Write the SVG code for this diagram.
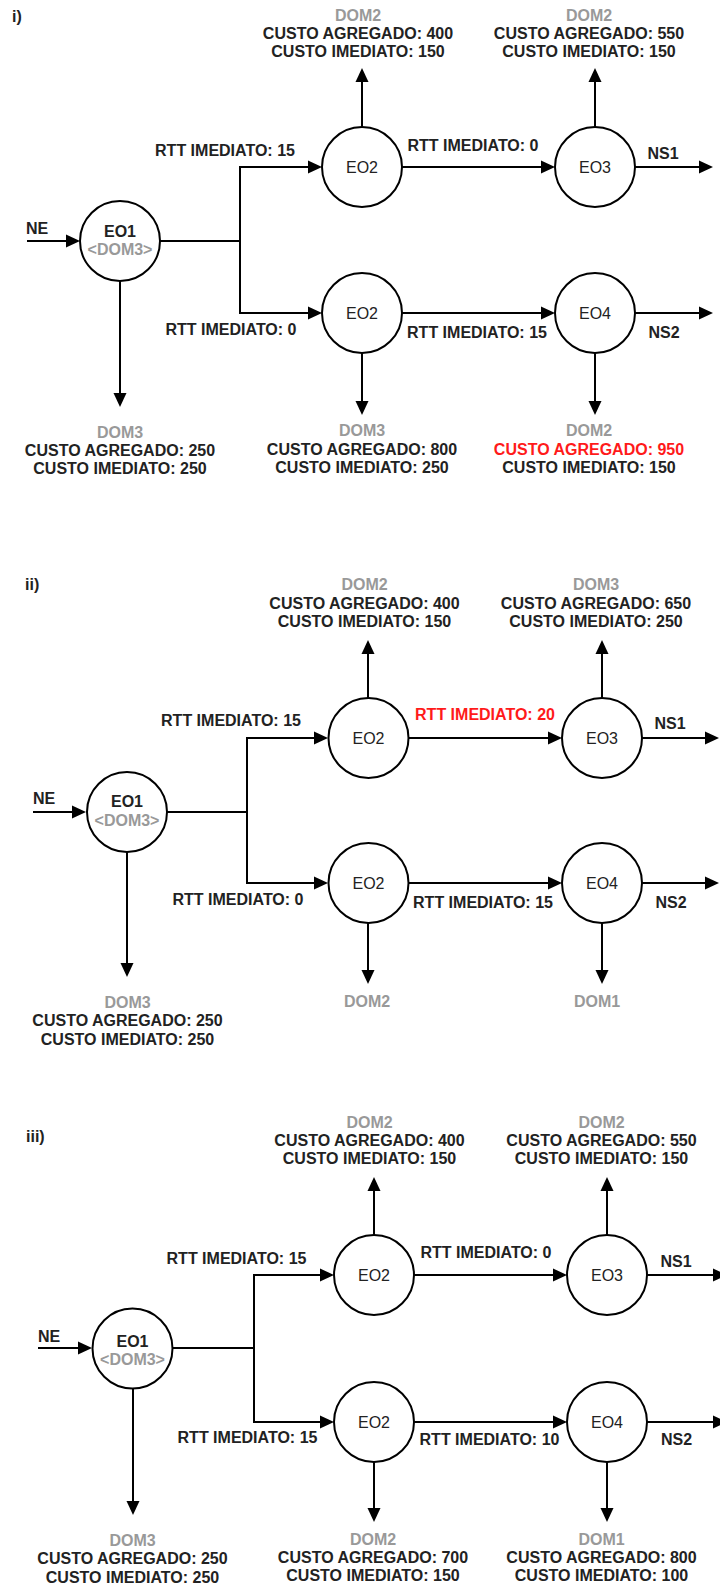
<svg xmlns="http://www.w3.org/2000/svg" width="720" height="1587" viewBox="0 0 720 1587">
  <style>
    text { font-family: "Liberation Sans", Arial, sans-serif; font-size: 16px; }
    .b { font-weight: bold; fill: #222; text-anchor: middle; }
    .s { font-weight: bold; fill: #222; text-anchor: start; }
    .g { font-weight: bold; fill: #999; text-anchor: middle; }
    .r { font-weight: bold; fill: #ff1a1a; text-anchor: middle; }
    .n { fill: #222; text-anchor: middle; }
    .node { fill: #fff; stroke: #000; stroke-width: 2; }
    .edge { fill: none; stroke: #000; stroke-width: 2; marker-end: url(#arr); }
    .wire { fill: none; stroke: #000; stroke-width: 2; }
  </style>
  <defs>
    <marker id="arr" markerUnits="userSpaceOnUse" markerWidth="14" markerHeight="14" refX="12" refY="7" orient="auto">
      <path d="M0,0.5 L14,7 L0,13.5 z" fill="#000"/>
    </marker>
  </defs>
  <rect width="720" height="1587" fill="#fff"/>

  <!-- ===== Scenario i) ===== -->
  <text class="s" x="12" y="22">i)</text>

  <g id="i-connectors">
    <path class="edge" d="M27,241 H78"/>
    <path class="wire" d="M160,241 H240"/>
    <path class="edge" d="M240,241 V167 H320"/>
    <path class="edge" d="M240,241 V313 H320"/>
    <path class="edge" d="M402,167 H553"/>
    <path class="edge" d="M635,167 H711"/>
    <path class="edge" d="M402,313 H553"/>
    <path class="edge" d="M635,313 H711"/>
    <path class="edge" d="M362,127 V70"/>
    <path class="edge" d="M595,127 V70"/>
    <path class="edge" d="M120,281 V405"/>
    <path class="edge" d="M362,353 V413"/>
    <path class="edge" d="M595,353 V413"/>
    <text class="s" x="26" y="234">NE</text>
    <text class="b" x="225" y="156">RTT IMEDIATO: 15</text>
    <text class="b" x="231" y="335">RTT IMEDIATO: 0</text>
    <text class="b" x="473" y="151">RTT IMEDIATO: 0</text>
    <text class="b" x="477" y="338">RTT IMEDIATO: 15</text>
    <text class="b" x="663" y="159">NS1</text>
    <text class="b" x="664" y="338">NS2</text>
  </g>

  <g id="i-eo1">
    <circle class="node" cx="120" cy="241" r="40"/>
    <text class="b" x="120" y="237">EO1</text>
    <text class="g" x="120" y="255">&lt;DOM3&gt;</text>
  </g>
  <g id="i-eo2-top">
    <circle class="node" cx="362" cy="167" r="40"/>
    <text class="n" x="362" y="173">EO2</text>
  </g>
  <g id="i-eo3">
    <circle class="node" cx="595" cy="167" r="40"/>
    <text class="n" x="595" y="173">EO3</text>
  </g>
  <g id="i-eo2-bottom">
    <circle class="node" cx="362" cy="313" r="40"/>
    <text class="n" x="362" y="319">EO2</text>
  </g>
  <g id="i-eo4">
    <circle class="node" cx="595" cy="313" r="40"/>
    <text class="n" x="595" y="319">EO4</text>
  </g>

  <g id="i-cost-eo2-top">
    <text class="g" x="358" y="21">DOM2</text>
    <text class="b" x="358" y="39">CUSTO AGREGADO: 400</text>
    <text class="b" x="358" y="57">CUSTO IMEDIATO: 150</text>
  </g>
  <g id="i-cost-eo3">
    <text class="g" x="589" y="21">DOM2</text>
    <text class="b" x="589" y="39">CUSTO AGREGADO: 550</text>
    <text class="b" x="589" y="57">CUSTO IMEDIATO: 150</text>
  </g>
  <g id="i-cost-eo1">
    <text class="g" x="120" y="438">DOM3</text>
    <text class="b" x="120" y="456">CUSTO AGREGADO: 250</text>
    <text class="b" x="120" y="474">CUSTO IMEDIATO: 250</text>
  </g>
  <g id="i-cost-eo2-bottom">
    <text class="g" x="362" y="436">DOM3</text>
    <text class="b" x="362" y="455">CUSTO AGREGADO: 800</text>
    <text class="b" x="362" y="473">CUSTO IMEDIATO: 250</text>
  </g>
  <g id="i-cost-eo4">
    <text class="g" x="589" y="436">DOM2</text>
    <text class="r" x="589" y="455">CUSTO AGREGADO: 950</text>
    <text class="b" x="589" y="473">CUSTO IMEDIATO: 150</text>
  </g>

  <!-- ===== Scenario ii) ===== -->
  <text class="s" x="25" y="590">ii)</text>

  <g id="ii-connectors">
    <path class="edge" d="M33,812 H84"/>
    <path class="wire" d="M167,812 H247" stroke-width="3"/>
    <path class="edge" d="M247,812 V738 H326"/>
    <path class="edge" d="M247,812 V883 H326"/>
    <path class="edge" d="M409,738 H560"/>
    <path class="edge" d="M642,738 H717"/>
    <path class="edge" d="M409,883 H560"/>
    <path class="edge" d="M642,883 H717"/>
    <path class="edge" d="M368,698 V642"/>
    <path class="edge" d="M602,698 V642"/>
    <path class="edge" d="M127,852 V975"/>
    <path class="edge" d="M368,923 V982"/>
    <path class="edge" d="M602,923 V982"/>
    <text class="s" x="33" y="804">NE</text>
    <text class="b" x="231" y="726">RTT IMEDIATO: 15</text>
    <text class="b" x="238" y="905">RTT IMEDIATO: 0</text>
    <text class="r" x="485" y="720">RTT IMEDIATO: 20</text>
    <text class="b" x="483" y="908">RTT IMEDIATO: 15</text>
    <text class="b" x="670" y="729">NS1</text>
    <text class="b" x="671" y="908">NS2</text>
  </g>

  <g id="ii-eo1">
    <circle class="node" cx="127" cy="812" r="40"/>
    <text class="b" x="127" y="807">EO1</text>
    <text class="g" x="127" y="826">&lt;DOM3&gt;</text>
  </g>
  <g id="ii-eo2-top">
    <circle class="node" cx="368.5" cy="738" r="40"/>
    <text class="n" x="368.5" y="744">EO2</text>
  </g>
  <g id="ii-eo3">
    <circle class="node" cx="602" cy="738" r="40"/>
    <text class="n" x="602" y="744">EO3</text>
  </g>
  <g id="ii-eo2-bottom">
    <circle class="node" cx="368.5" cy="883" r="40"/>
    <text class="n" x="368.5" y="889">EO2</text>
  </g>
  <g id="ii-eo4">
    <circle class="node" cx="602" cy="883" r="40"/>
    <text class="n" x="602" y="889">EO4</text>
  </g>

  <g id="ii-cost-eo2-top">
    <text class="g" x="364.5" y="590">DOM2</text>
    <text class="b" x="364.5" y="609">CUSTO AGREGADO: 400</text>
    <text class="b" x="364.5" y="627">CUSTO IMEDIATO: 150</text>
  </g>
  <g id="ii-cost-eo3">
    <text class="g" x="596" y="590">DOM3</text>
    <text class="b" x="596" y="609">CUSTO AGREGADO: 650</text>
    <text class="b" x="596" y="627">CUSTO IMEDIATO: 250</text>
  </g>
  <g id="ii-cost-eo1">
    <text class="g" x="127.5" y="1008">DOM3</text>
    <text class="b" x="127.5" y="1026">CUSTO AGREGADO: 250</text>
    <text class="b" x="127.5" y="1045">CUSTO IMEDIATO: 250</text>
  </g>
  <g id="ii-dom-eo2-bottom">
    <text class="g" x="367" y="1007">DOM2</text>
  </g>
  <g id="ii-dom-eo4">
    <text class="g" x="597" y="1007">DOM1</text>
  </g>

  <!-- ===== Scenario iii) ===== -->
  <text class="s" x="26" y="1142">iii)</text>

  <g id="iii-connectors">
    <path class="edge" d="M38,1348 H90"/>
    <path class="wire" d="M173,1348 H254"/>
    <path class="edge" d="M254,1348 V1275 H332"/>
    <path class="edge" d="M254,1348 V1422 H332"/>
    <path class="edge" d="M414,1275 H565"/>
    <path class="edge" d="M647,1275 H725"/>
    <path class="edge" d="M414,1422 H565"/>
    <path class="edge" d="M647,1422 H725"/>
    <path class="edge" d="M374,1235 V1179"/>
    <path class="edge" d="M607,1235 V1179"/>
    <path class="edge" d="M133,1389 V1513"/>
    <path class="edge" d="M374,1462 V1520"/>
    <path class="edge" d="M607,1462 V1520"/>
    <text class="s" x="38" y="1342">NE</text>
    <text class="b" x="236.5" y="1264">RTT IMEDIATO: 15</text>
    <text class="b" x="247.5" y="1443">RTT IMEDIATO: 15</text>
    <text class="b" x="486" y="1258">RTT IMEDIATO: 0</text>
    <text class="b" x="489.5" y="1445">RTT IMEDIATO: 10</text>
    <text class="b" x="676" y="1267">NS1</text>
    <text class="b" x="676.5" y="1445">NS2</text>
  </g>

  <g id="iii-eo1">
    <circle class="node" cx="132.5" cy="1348.5" r="40"/>
    <text class="b" x="132.5" y="1347">EO1</text>
    <text class="g" x="132.5" y="1365">&lt;DOM3&gt;</text>
  </g>
  <g id="iii-eo2-top">
    <circle class="node" cx="374" cy="1275" r="40"/>
    <text class="n" x="374" y="1281">EO2</text>
  </g>
  <g id="iii-eo3">
    <circle class="node" cx="607" cy="1275" r="40"/>
    <text class="n" x="607" y="1281">EO3</text>
  </g>
  <g id="iii-eo2-bottom">
    <circle class="node" cx="374" cy="1422" r="40"/>
    <text class="n" x="374" y="1428">EO2</text>
  </g>
  <g id="iii-eo4">
    <circle class="node" cx="607" cy="1422" r="40"/>
    <text class="n" x="607" y="1428">EO4</text>
  </g>

  <g id="iii-cost-eo2-top">
    <text class="g" x="369.5" y="1128">DOM2</text>
    <text class="b" x="369.5" y="1146">CUSTO AGREGADO: 400</text>
    <text class="b" x="369.5" y="1164">CUSTO IMEDIATO: 150</text>
  </g>
  <g id="iii-cost-eo3">
    <text class="g" x="601.5" y="1128">DOM2</text>
    <text class="b" x="601.5" y="1146">CUSTO AGREGADO: 550</text>
    <text class="b" x="601.5" y="1164">CUSTO IMEDIATO: 150</text>
  </g>
  <g id="iii-cost-eo1">
    <text class="g" x="132.5" y="1546">DOM3</text>
    <text class="b" x="132.5" y="1564">CUSTO AGREGADO: 250</text>
    <text class="b" x="132.5" y="1583">CUSTO IMEDIATO: 250</text>
  </g>
  <g id="iii-cost-eo2-bottom">
    <text class="g" x="373" y="1545">DOM2</text>
    <text class="b" x="373" y="1563">CUSTO AGREGADO: 700</text>
    <text class="b" x="373" y="1581">CUSTO IMEDIATO: 150</text>
  </g>
  <g id="iii-cost-eo4">
    <text class="g" x="601.5" y="1545">DOM1</text>
    <text class="b" x="601.5" y="1563">CUSTO AGREGADO: 800</text>
    <text class="b" x="601.5" y="1581">CUSTO IMEDIATO: 100</text>
  </g>
</svg>
